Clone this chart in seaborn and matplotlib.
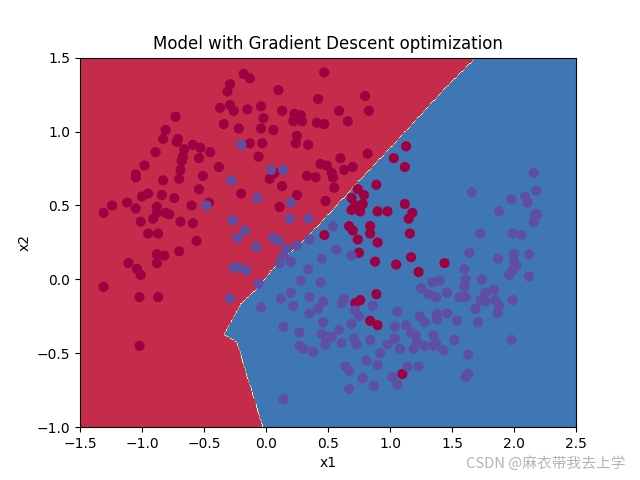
import numpy as np
import pandas as pd
import matplotlib
matplotlib.use("Agg")
import matplotlib.pyplot as plt
import seaborn as sns

# ---- data ----
red_x = [-0.73, -0.81, -0.83, -0.71, -0.72, -0.59, -0.66, -0.53, -0.89, -0.67, -0.54, -0.68, -0.98, -0.69, -1.05, -0.51, -0.83, -0.70, -1.05,
         -0.18, -0.13, 0.47, -0.29, -0.31, 0.10, 0.42, -0.37, -0.29, -0.26, -0.15, -0.04, -0.02, 0.13, 0.23, 0.28, 0.22, 0.29, 0.41, 0.47,
         -0.34, -0.22, -0.04, 0.06, 0.25, 0.24, 0.34, -0.13, -0.03, -0.45, -0.06, -0.38, 0.44, 0.49, 0.07, 0.33, 0.40, 0.03,
         0.80, 0.59, 0.83, 0.66, 1.13, 1.03, 1.12, 0.82, 0.60, 0.70, 0.63, 0.53, 0.54,
         -0.54, -0.95, -1.00, -0.84, -0.74, -1.24, -1.12, -1.05, -1.31, -0.88, -0.88, -0.81, -0.78, -0.91, -0.60, -1.01, -0.69, -0.59,
         -0.95, -0.87, -0.56, -0.70, -0.88, -0.82, -0.88, -1.11, -1.04, -1.01, -1.31, -1.02, -0.87,
         0.13, -0.20, 0.25, -0.46, 0.11, 0.48, 0.47,
         0.55, 0.89, 0.74, 0.79, 0.69, 0.72, 0.78, 0.69, 0.76, 0.90, 0.98, 1.12, 1.18, 1.15, 0.67, 0.70, 0.84, 0.84, 1.16, 0.74, 0.90,
         0.75, 1.17, 0.88, 1.05, 1.44, 1.23, 0.89, 0.76, 0.72,
         -1.02, 0.84, 0.90, 1.10]
red_y = [1.10, 1.01, 0.95, 0.95, 0.93, 0.91, 0.88, 0.89, 0.86, 0.83, 0.82, 0.80, 0.77, 0.74, 0.71, 0.70, 0.67, 0.68, 0.69,
         1.39, 1.36, 1.40, 1.32, 1.27, 1.28, 1.22, 1.16, 1.18, 1.14, 1.15, 1.17, 1.09, 1.14, 1.12, 1.11, 1.07, 1.07, 1.06, 1.05,
         1.05, 1.02, 1.02, 1.01, 0.97, 0.92, 0.91, 0.92, 0.92, 0.86, 0.83, 0.76, 0.78, 0.77, 0.72, 0.70, 0.69, 0.68,
         1.24, 1.14, 1.14, 1.07, 0.90, 0.82, 0.76, 0.85, 0.82, 0.76, 0.74, 0.72, 0.69,
         0.61, 0.58, 0.56, 0.57, 0.55, 0.50, 0.52, 0.48, 0.45, 0.49, 0.45, 0.45, 0.44, 0.41, 0.50, 0.39, 0.39, 0.38,
         0.31, 0.31, 0.26, 0.19, 0.17, 0.16, 0.11, 0.11, 0.07, 0.03, -0.05, -0.12, -0.12,
         0.63, 0.58, 0.57, 0.52, 0.49, 0.53, 0.30,
         0.62, 0.64, 0.61, 0.57, 0.55, 0.50, 0.51, 0.47, 0.46, 0.46, 0.46, 0.51, 0.45, 0.41, 0.36, 0.33, 0.36, 0.31, 0.31, 0.27, 0.25,
         0.18, 0.15, 0.12, 0.10, 0.11, 0.05, -0.10, -0.14, -0.16,
         -0.45, -0.28, -0.31, -0.64]

blue_x = [-0.20, 0.04, 0.14, -0.28, 2.16,
          -0.48, -0.07, 0.20, -0.27, 0.19, 0.34, -0.17, -0.23, 0.06, 0.10, 0.35, -0.08, 0.17, 0.25, 0.14, 0.20, 0.11, 0.45,
          -0.26, -0.22, -0.16, 0.34, -0.06, 0.28, 0.44, -0.29, 0.12, 0.20, 0.35, 0.46,
          0.54, 0.57, 0.69, 1.25, 1.34, 1.40, 1.31, 1.37, 1.46, 0.63, 0.61,
          1.66, 2.18, 1.98, 2.09, 2.11, 1.88, 2.19, 2.17, 2.16, 1.73, 1.99, 2.06, 1.64, 1.87, 2.00, 2.12, 2.00, 2.02, 1.99, 1.96, 2.12,
          1.60, 1.61, 1.74, 1.60, 1.84, 1.77, 1.56, 1.61, 1.73, 1.77, 1.85, 1.99,
          -0.04, 0.22, 0.35, 0.42, 0.14, 0.27, 0.46, 0.45, 0.48, 0.48, 0.27, 0.30, 0.38, 0.14,
          0.86, 0.72, 0.75, 1.06, 0.69, 1.04, 1.13, 1.24, 1.28, 1.38, 1.46, 1.38, 0.59, 1.17, 1.21, 1.35, 0.53, 0.71, 0.84, 1.04,
          0.61, 0.73, 0.98, 1.22, 1.28, 1.35, 1.37, 1.43, 1.08, 1.19, 0.92, 0.81, 0.90, 0.64, 0.67, 1.14, 1.23, 1.02, 1.06, 0.78, 0.87, 0.67,
          1.69, 1.88, 1.87, 1.54, 1.71, 1.52, 1.98, 1.63, 1.63, 1.61]
blue_y = [0.91, 0.74, 0.74, 0.67, 0.72,
          0.50, 0.55, 0.52, 0.40, 0.41, 0.41, 0.33, 0.28, 0.28, 0.26, 0.27, 0.22, 0.21, 0.23, 0.16, 0.12, 0.11, 0.14,
          0.08, 0.08, 0.06, 0.07, -0.03, -0.01, -0.02, -0.13, -0.13, -0.09, -0.12, -0.15,
          0.36, 0.20, 0.16, -0.06, -0.02, -0.01, -0.10, -0.12, -0.09, -0.13, -0.16,
          0.59, 0.60, 0.54, 0.56, 0.52, 0.46, 0.44, 0.44, 0.39, 0.31, 0.31, 0.30, 0.18, 0.14, 0.17, 0.17, 0.12, 0.09, 0.06, 0.03, 0.02,
          0.07, 0.00, 0.00, -0.05, -0.07, -0.09, -0.12, -0.12, -0.14, -0.15, -0.14, -0.14,
          -0.19, -0.18, -0.23, -0.20, -0.32, -0.36, -0.29, -0.37, -0.39, -0.44, -0.45, -0.47, -0.49, -0.81,
          -0.18, -0.21, -0.25, -0.22, -0.30, -0.32, -0.31, -0.25, -0.29, -0.23, -0.23, -0.27, -0.34, -0.36, -0.38, -0.38, -0.39, -0.40, -0.41, -0.40,
          -0.43, -0.44, -0.44, -0.43, -0.45, -0.45, -0.43, -0.48, -0.47, -0.47, -0.50, -0.55, -0.58, -0.59, -0.62, -0.59, -0.59, -0.66, -0.71, -0.67, -0.72, -0.74,
          -0.20, -0.18, -0.23, -0.28, -0.29, -0.41, -0.41, -0.51, -0.64, -0.66]

# decision boundary of the model (x1 of boundary as a function of x2)
boundary_x2 = [-1.00, -0.78, -0.65, -0.45, -0.42, -0.37, -0.22, -0.17, -0.04, 0.05, 0.14, 0.18, 0.26, 0.43, 0.66, 0.89, 1.09, 1.31, 1.50, 1.55]
boundary_x1 = [-0.02, -0.10, -0.15, -0.22, -0.23, -0.33, -0.23, -0.20, -0.04, 0.04, 0.15, 0.20, 0.31, 0.50, 0.75, 1.01, 1.23, 1.47, 1.70, 1.75]

title = "Model with Gradient Descent optimization"
watermark = "CSDN @麻衣带我去上学"

# ---- build table ----
df = pd.DataFrame({
    "x1": red_x + blue_x,
    "x2": red_y + blue_y,
    "label": [0] * len(red_x) + [1] * len(blue_x),
})

fig, ax = plt.subplots(figsize=(6.4, 4.8), dpi=100)

h = 0.01
xx, yy = np.meshgrid(np.arange(-1.5, 2.5 + h, h), np.arange(-1.0, 1.5 + h, h))
bnd = np.interp(yy, boundary_x2, boundary_x1)
Z = (xx > bnd).astype(int)
ax.contourf(xx, yy, Z, cmap=plt.cm.Spectral)

spec = plt.cm.Spectral
sns.scatterplot(data=df, x="x1", y="x2", hue="label",
                palette={0: spec(0.0), 1: spec(1.0)},
                s=40, linewidth=1.0, edgecolor="face", legend=False, ax=ax, zorder=3)

ax.set_xlim(-1.5, 2.5)
ax.set_ylim(-1, 1.5)
ax.set_title(title)
ax.set_xlabel("x1")
ax.set_ylabel("x2")

fig.text(0.977, 0.02, watermark, ha="right", va="bottom", fontsize=10.6,
         color="#b4b4b4", family=["Noto Sans CJK SC", "DejaVu Sans"])

fig.savefig("out.png", dpi=100)
